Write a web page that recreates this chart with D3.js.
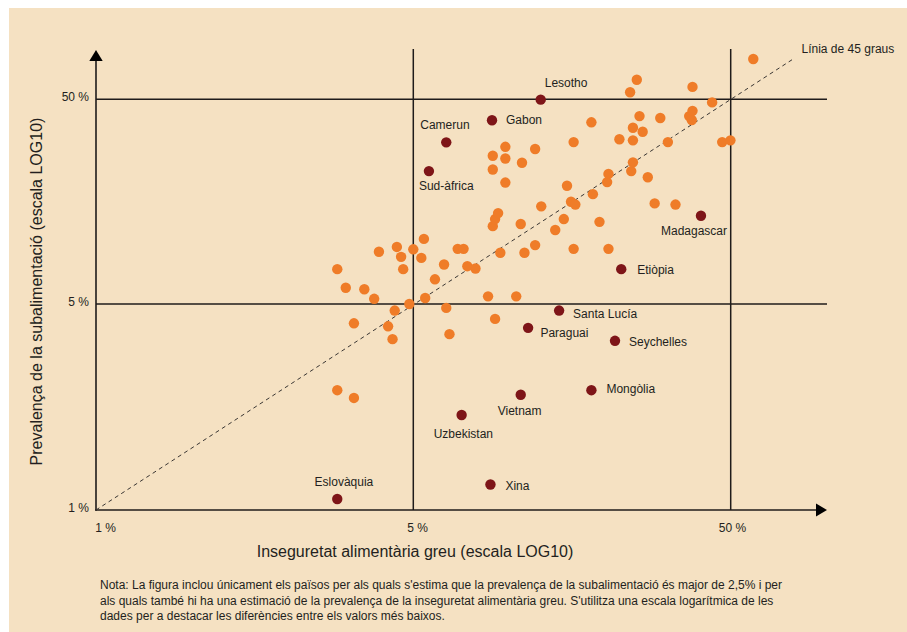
<!DOCTYPE html>
<html>
<head>
<meta charset="utf-8">
<script src="https://cdn.jsdelivr.net/npm/d3@7"></script>
<style>
  html, body { margin: 0; padding: 0; background: #ffffff; }
  svg text { font-family: "Liberation Sans", Arial, Helvetica, sans-serif; fill: #231f20; }
</style>
</head>
<body>
<svg id="chart" width="907" height="632"></svg>
<script>
// ---------------- DATA ----------------
const tickValues = [1, 5, 50];
const tickLabels = ["1 %", "5 %", "50 %"];

// Other countries (orange): severe food insecurity (%) vs prevalence of undernourishment (%)
const otherInsecurity = [3.4, 3.55, 3.9, 4.1, 4.2, 4.6, 4.7, 4.75, 5.0, 5.4, 5.3, 5.85, 6.25, 4.9, 5.45, 4.55, 3.7, 4.4, 4.5, 6.35,
  6.5, 3.4, 3.7, 6.9, 7.2, 7.4, 7.85, 8.6, 10.55, 9.05, 9.4, 11.2, 12.1, 16.0, 20.6, 14.0, 14.9, 19.3, 10.9, 8.9,
  9.05, 9.25, 12.65, 15.7, 16.2, 18.4, 15.25, 28.8, 33.5, 20.4, 20.6, 27.4, 24.3, 24.6, 9.75, 8.9, 11.0, 9.75, 8.9, 9.75,
  12.1, 16.0, 22.3, 24.6, 31.7, 47.0, 49.9, 26.4, 24.6, 18.2, 25.8, 30.0, 37.7, 37.0, 37.9, 43.7, 37.9, 24.1, 25.3, 58.9];
const otherUndernourishment = [7.4, 6.0, 5.9, 5.3, 9.0, 9.5, 8.5, 7.4, 9.25, 10.4, 8.4, 6.6, 7.8, 5.0, 5.35, 4.75, 4.3, 4.2, 3.8, 4.85,
  3.95, 2.55, 2.4, 9.3, 9.3, 7.65, 7.45, 5.45, 5.45, 4.45, 8.9, 8.9, 9.7, 9.3, 9.3, 11.5, 13.0, 12.6, 12.3, 12.0,
  13.0, 13.9, 15.0, 15.8, 15.3, 17.2, 18.9, 15.5, 15.3, 19.7, 21.6, 20.8, 22.3, 24.6, 19.6, 22.7, 24.5, 25.7, 26.5, 29.3,
  28.6, 30.9, 31.9, 31.5, 30.9, 30.9, 31.5, 34.7, 36.3, 38.6, 41.4, 40.5, 39.6, 41.4, 43.9, 48.3, 57.5, 54.1, 62.3, 78.7];

// Highlighted countries (dark red)
const highlightNames = ["Lesotho", "Gabon", "Camerun", "Sud-àfrica", "Madagascar", "Etiòpia", "Santa Lucía",
  "Paraguai", "Seychelles", "Mongòlia", "Vietnam", "Uzbekistan", "Xina", "Eslovàquia"];
const highlightInsecurity = [12.6, 8.85, 6.35, 5.6, 40.3, 22.6, 14.4, 11.5, 21.6, 18.2, 10.9, 7.1, 8.75, 3.4];
const highlightUndernourishment = [49.8, 39.5, 30.8, 22.3, 13.5, 7.4, 4.75, 4.15, 3.75, 2.55, 2.46, 2.1, 1.22, 1.09];

const diagonalEnds = [1, 78];

const xTitle = "Inseguretat alimentària greu (escala LOG10)";
const yTitle = "Prevalença de la subalimentació (escala LOG10)";
const diagonalLabel = "Línia de 45 graus";
const noteLines = [
  "Nota: La figura inclou únicament els països per als quals s'estima que la prevalença de la subalimentació és major de 2,5% i per",
  "als quals també hi ha una estimació de la prevalença de la inseguretat alimentària greu. S'utilitza una escala logarítmica de les",
  "dades per a destacar les diferències entre els valors més baixos."
];

// ---------------- LAYOUT (not data) ----------------
// label placement relative to each highlighted dot [dx, dy]
const labelPlacement = [[4, -13], [14, 4], [-26, -13], [-10, 19], [-40, 19], [16, 4.6], [14, 7.6],
  [12.3, 9.3], [14, 5.4], [15, 3.3], [-23, 20.3], [-28, 23.3], [15, 5], [-22.7, -13]];
const xTickShift = [9, 3.7, 1.3];

// ---------------- DRAW ----------------
const svg = d3.select("#chart");
const ink = "#1f1b1a";
const orange = "#ef7c28";
const darkRed = "#7e1518";

svg.append("rect").attr("x", 9).attr("y", 8).attr("width", 898).attr("height", 624).attr("fill", "#f5e1c2");

const x = d3.scaleLog().domain([1, 5, 50]).range([96, 413.3, 730.7]);
const y = d3.scaleLog().domain([1, 5, 50]).range([510, 304, 99.3]);

const left = x(1), bottom = y(1), rightEnd = 827, topEnd = 49;

// reference lines at 5% and 50%
const g = svg.append("g");
g.selectAll("line.h").data(tickValues.slice(1)).join("line")
  .attr("x1", left).attr("x2", rightEnd).attr("y1", d => y(d)).attr("y2", d => y(d))
  .attr("stroke", ink).attr("stroke-width", 1.5);
g.selectAll("line.v").data(tickValues.slice(1)).join("line")
  .attr("y1", bottom).attr("y2", topEnd).attr("x1", d => x(d)).attr("x2", d => x(d))
  .attr("stroke", ink).attr("stroke-width", 1.5);

// axes lines with arrows
g.append("line").attr("x1", left).attr("x2", left).attr("y1", bottom + 0.75).attr("y2", 58).attr("stroke", ink).attr("stroke-width", 1.6);
g.append("line").attr("x1", left - 0.75).attr("x2", 818).attr("y1", bottom).attr("y2", bottom).attr("stroke", ink).attr("stroke-width", 1.6);
g.append("path").attr("d", `M${left},50 L${left - 6.7},61 L${left + 6.7},61 Z`).attr("fill", "#000");
g.append("path").attr("d", `M827,${bottom} L816,${bottom - 6.4} L816,${bottom + 6.4} Z`).attr("fill", "#000");

// diagonal
svg.append("line")
  .attr("x1", x(diagonalEnds[0])).attr("y1", y(diagonalEnds[0]))
  .attr("x2", x(diagonalEnds[1])).attr("y2", y(diagonalEnds[1]))
  .attr("stroke", "#3a3633").attr("stroke-width", 1).attr("stroke-dasharray", "4,3.5");
svg.append("text").attr("x", 801.5).attr("y", 52.5).attr("font-size", 12).text(diagonalLabel);

// axes via d3
const yAxis = d3.axisLeft(y).tickValues(tickValues).tickFormat((d, i) => tickLabels[i]).tickSize(0).tickPadding(7);
const ya = svg.append("g").attr("transform", `translate(${left},0)`).call(yAxis);
ya.select(".domain").remove();
ya.selectAll("text").attr("font-size", 12).attr("dy", "0.1em").style("font-family", null);

const xAxis = d3.axisBottom(x).tickValues(tickValues).tickFormat((d, i) => tickLabels[i]).tickSize(0).tickPadding(13);
const xa = svg.append("g").attr("transform", `translate(0,${bottom})`).call(xAxis);
xa.select(".domain").remove();
xa.selectAll("text").attr("font-size", 12).attr("dx", (d, i) => xTickShift[i]).style("font-family", null);
svg.selectAll(".tick text").attr("fill", "#231f20");
svg.selectAll("g[font-family]").attr("font-family", null);

// dots
const others = otherInsecurity.map((v, i) => ({ x: v, y: otherUndernourishment[i] }));
svg.append("g").selectAll("circle").data(others).join("circle")
  .attr("cx", d => x(d.x)).attr("cy", d => y(d.y)).attr("r", 5.2).attr("fill", orange);

const highlights = highlightNames.map((n, i) => ({ name: n, x: highlightInsecurity[i], y: highlightUndernourishment[i], off: labelPlacement[i] }));
const hg = svg.append("g");
hg.selectAll("circle").data(highlights).join("circle")
  .attr("cx", d => x(d.x)).attr("cy", d => y(d.y)).attr("r", 5.2).attr("fill", darkRed);
hg.selectAll("text").data(highlights).join("text")
  .attr("x", d => x(d.x) + d.off[0]).attr("y", d => y(d.y) + d.off[1])
  .attr("font-size", 12).text(d => d.name);

// titles
svg.append("text").attr("x", 415).attr("y", 556.5).attr("text-anchor", "middle").attr("font-size", 16).text(xTitle);
svg.append("text").attr("transform", "translate(42,291.5) rotate(-90)").attr("text-anchor", "middle").attr("font-size", 16).text(yTitle);

// note
svg.append("g").selectAll("text").data(noteLines).join("text")
  .attr("x", 100).attr("y", (d, i) => 589 + i * 15.5).attr("font-size", 12).text(d => d);
</script>
</body>
</html>
